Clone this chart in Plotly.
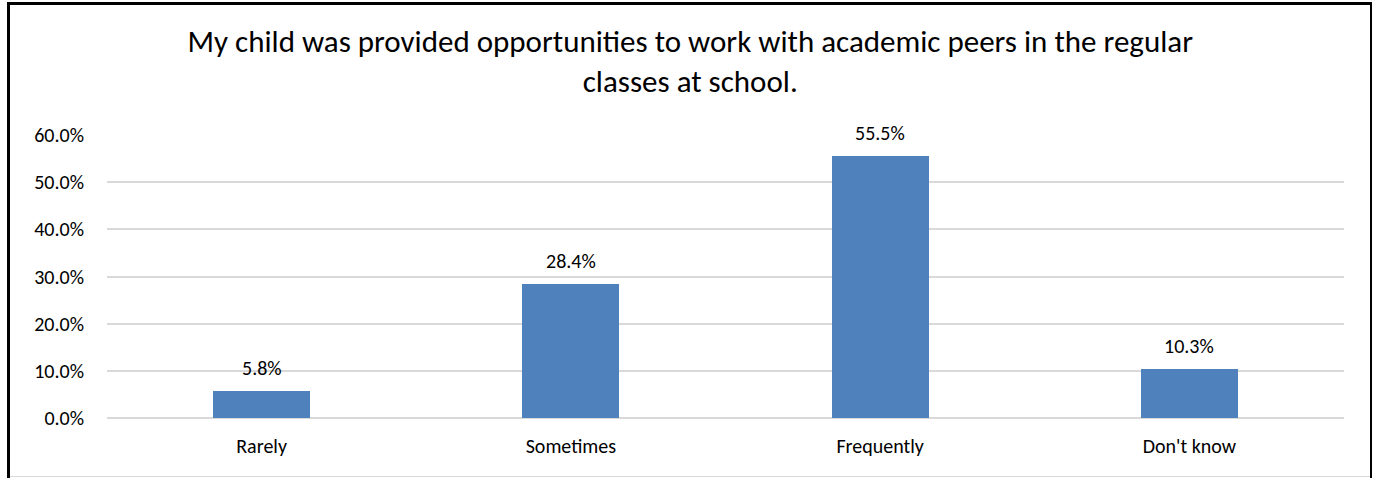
import plotly.graph_objects as go

categories = ["Rarely", "Sometimes", "Frequently", "Don't know"]
values = [5.8, 28.4, 55.5, 10.3]
labels = ["5.8%", "28.4%", "55.5%", "10.3%"]
tick_vals = [0, 10, 20, 30, 40, 50, 60]
tick_text = ["0.0%", "10.0%", "20.0%", "30.0%", "40.0%", "50.0%", "60.0%"]

W, H = 1375, 478
L, R, T, B = 107, 31, 135, 60
pw, ph = W - L - R, H - T - B

FONT = "Carlito, Calibri, Lato, sans-serif"
FS = 20

fig = go.Figure()
fig.add_trace(go.Bar(
    x=categories, y=values, width=0.314,
    marker=dict(color="#4f81bd", line=dict(width=0)),
    hoverinfo="skip",
))
for c, v, t in zip(categories, values, labels):
    fig.add_annotation(x=c, y=v, text=t, showarrow=False, yshift=23,
                       yanchor="middle", font=dict(size=FS, color="#000", family=FONT))

def px_x(p):
    return (p - L) / pw

def px_y(p):
    return (H - B - p) / ph

shapes = [
    dict(type="line", xref="paper", yref="paper", x0=px_x(8.5), x1=px_x(8.5), y0=px_y(2), y1=px_y(478), line=dict(color="#000", width=3)),
    dict(type="line", xref="paper", yref="paper", x0=px_x(7), x1=px_x(1372), y0=px_y(3.5), y1=px_y(3.5), line=dict(color="#000", width=3)),
    dict(type="line", xref="paper", yref="paper", x0=px_x(1371), x1=px_x(1371), y0=px_y(2), y1=px_y(478), line=dict(color="#000", width=2)),
    dict(type="line", xref="paper", yref="paper", x0=px_x(10), x1=px_x(1370), y0=px_y(476.5), y1=px_y(476.5), line=dict(color="#d9d9d9", width=1)),
]

fig.update_layout(
    width=W, height=H,
    margin=dict(l=L, r=R, t=T, b=B),
    paper_bgcolor="white", plot_bgcolor="white",
    showlegend=False,
    bargap=0,
    font=dict(family=FONT, size=FS, color="#000"),
    title=dict(
        text="My child was provided opportunities to work with academic peers in the regular<br>classes at school.",
        x=0.502, xanchor="center", y=1 - 62 / H, yanchor="middle",
        font=dict(size=31, color="#000", family=FONT),
    ),
    xaxis=dict(showline=False, ticks="", showgrid=False, tickfont=dict(size=FS),
               ticklabelstandoff=14),
    yaxis=dict(range=[0, 60], tickvals=tick_vals, ticktext=tick_text,
               showgrid=True, gridcolor="#d9d9d9", gridwidth=1.5,
               zeroline=True, zerolinecolor="#d9d9d9", zerolinewidth=1.5,
               showline=False, ticks="", ticklabelstandoff=22, tickfont=dict(size=FS)),
    shapes=shapes,
)
fig.update_layout(title_y=1 - 52 / H)

fig.write_html("out.html", config={"displayModeBar": False},
               post_script="document.body.style.margin='0';")
